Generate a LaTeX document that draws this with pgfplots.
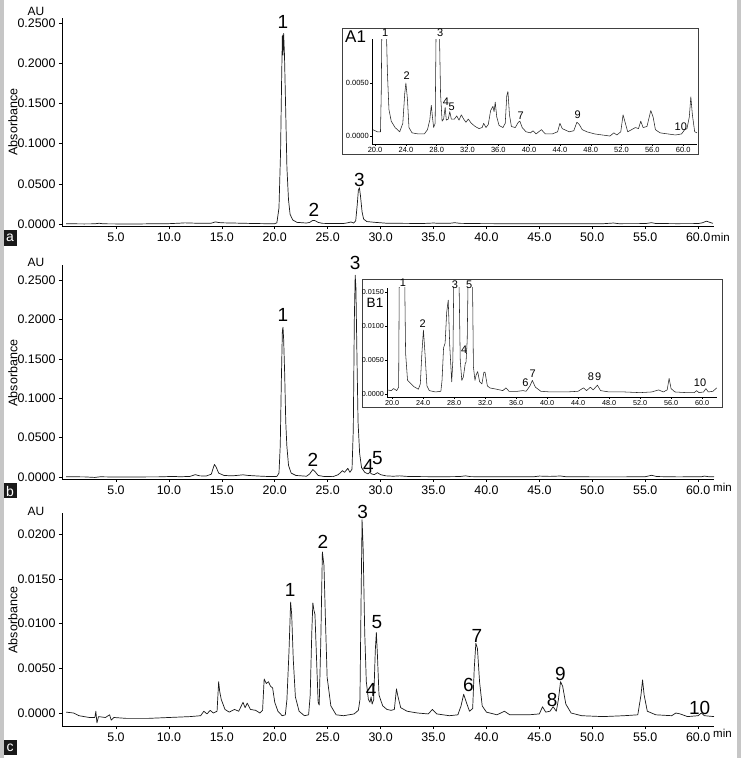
\documentclass[border=0pt]{standalone}
\usepackage{pgfplots}
\pgfplotsset{compat=1.18}
\usepackage{fontspec}
\setmainfont{Liberation Sans}
\newcommand{\fs}[1]{\fontsize{#1}{#1}\selectfont}
\pgfplotsset{
 numfmt/.style={/pgf/number format/fixed,/pgf/number format/fixed zerofill,/pgf/number format/precision=4,/pgf/number format/assume math mode=true},
 trace/.style={black!90,line width=0.7pt,line join=round,mark=none},
 itrace/.style={black!85,line width=0.55pt,line join=round,mark=none},
 mainax/.style={
   scale only axis, anchor=south west, width=652pt,
   axis lines*=left, xmin=-0.1, xmax=61.5,
   xtick={5,10,15,20,25,30,35,40,45,50,55,60},
   xticklabels={5.0,10.0,15.0,20.0,25.0,30.0,35.0,40.0,45.0,50.0,55.0,60.0},
   scaled y ticks=false,
   yticklabel style={numfmt},
   tick align=outside, major tick length=3pt,
   tick style={black,line width=0.5pt},
   axis line style={black,line width=0.6pt},
   tick label style={font=\fs{12.4}},
   clip mode=individual, no markers,
 },
 insetax/.style={
   scale only axis, anchor=south west,
   axis lines*=left,
   xtick={20,24,28,32,36,40,44,48,52,56,60},
   xticklabels={20.0,24.0,28.0,32.0,36.0,40.0,44.0,48.0,52.0,56.0,60.0},
   scaled y ticks=false,
   yticklabel style={numfmt},
   tick align=outside, major tick length=2pt,
   tick style={black,line width=0.4pt},
   axis line style={black,line width=0.5pt},
   tick label style={font=\fs{7.5},inner sep=1pt},
   clip mode=individual, no markers,
 },
}
\begin{document}
\begin{tikzpicture}
\path[use as bounding box] (0pt,0pt) rectangle (741pt,758pt);
\fill[gray!45] (0pt,0pt) rectangle (4pt,758pt);
\fill[gray!45] (737pt,0pt) rectangle (741pt,758pt);

% ---------------- panel a ----------------
\begin{axis}[mainax, at={(62pt,532pt)}, height=208pt, ymin=-0.0025, ymax=0.2562,
  ytick={0,0.05,0.1,0.15,0.2,0.25}]
\addplot[trace] coordinates {(0.3,0.0003) (1,0.0002) (2,0.0001) (3,0.0002) (3.4,0.0009) (3.8,0.0002) (5,0.0001) (7,0) (8,0.0002) (10,0.0004) (11,0.0010) (11.5,0.0014) (12,0.0012) (13,0.0008) (14,0.0010) (14.4,0.0026) (14.7,0.0018) (15.2,0.0014) (16,0.0012) (17,0.0009) (18,0.0006) (19,0.0004) (20,0.0004) (20.2,0.0015) (20.4,0.02) (20.55,0.09) (20.65,0.18) (20.72,0.235) (20.78,0.21) (20.84,0.237) (20.92,0.21) (21.02,0.15) (21.15,0.07) (21.3,0.03) (21.45,0.012) (21.7,0.005) (22.1,0.002) (23,0.0012) (23.3,0.002) (23.6,0.0045) (23.8,0.0042) (24.1,0.002) (24.5,0.0008) (25.5,0.0005) (26.5,0.0006) (26.9,0.0015) (27.2,0.0025) (27.45,0.0012) (27.65,0.004) (27.8,0.025) (27.9,0.042) (28.0,0.045) (28.1,0.035) (28.25,0.015) (28.4,0.006) (28.7,0.003) (29.5,0.002) (30.5,0.001) (32,0.0008) (34,0.0006) (35,0.0012) (35.5,0.0008) (36.5,0.0008) (37,0.0016) (37.5,0.0008) (39,0.0005) (41,0.0004) (45,0.0004) (48,0.0003) (51,0.0003) (52,0.0012) (52.5,0.0004) (55,0.0005) (55.6,0.0016) (56,0.0006) (58,0.0004) (60,0.0005) (60.4,0.0015) (60.8,0.0035) (61.1,0.002) (61.4,0.0008)};
\node[font=\fs{19}] at (20.76,0.251) {1};
\node[font=\fs{19}] at (23.7,0.0174) {2};
\node[font=\fs{19}] at (28.0,0.0547) {3};
\end{axis}

% inset A1
\filldraw[fill=white,draw=black!75,line width=0.7pt] (342pt,604pt) rectangle (698pt,730pt);
\begin{axis}[insetax, at={(372pt,614pt)}, width=325pt, height=105pt,
  xmin=19.6, xmax=61.8, ymin=-0.00075, ymax=0.00915, ytick={0,0.005}]
\addplot[itrace] coordinates {(19.7,0.0006) (20.3,0.0004) (20.7,0.0004) (20.8,0.004) (20.9,0.012) (21.4,0.012) (21.6,0.006) (21.8,0.0025) (22.1,0.0014) (22.6,0.0008) (23.2,0.0004) (23.6,0.0012) (23.85,0.004) (24.0,0.005) (24.2,0.0035) (24.4,0.0008) (24.8,0.0003) (25.6,0.0002) (26.4,0.0002) (26.8,0.0006) (27.1,0.0015) (27.3,0.0029) (27.45,0.0018) (27.6,0.0008) (27.8,0.0012) (27.95,0.012) (28.3,0.012) (28.5,0.004) (28.7,0.0014) (28.9,0.0016) (29.1,0.0027) (29.25,0.0015) (29.5,0.0016) (29.7,0.0023) (29.9,0.0016) (30.3,0.0016) (30.6,0.0019) (30.9,0.0015) (31.2,0.0020) (31.5,0.0016) (31.8,0.0013) (32.1,0.0016) (32.5,0.0012) (33.0,0.0009) (33.5,0.0007) (33.9,0.0008) (34.1,0.0012) (34.4,0.0008) (34.7,0.0011) (35.0,0.0024) (35.3,0.0028) (35.45,0.0023) (35.6,0.0032) (35.8,0.0018) (36.1,0.0010) (36.6,0.0008) (36.9,0.0012) (37.1,0.0038) (37.25,0.0042) (37.45,0.002) (37.7,0.0009) (38.2,0.0008) (38.6,0.0013) (38.8,0.0014) (39.1,0.0008) (39.6,0.0004) (40.2,0.0003) (40.5,0.0005) (40.9,0.0002) (41.6,0.0006) (42.1,0.0002) (43,0.0002) (43.7,0.0004) (44.0,0.0012) (44.3,0.0007) (45.2,0.0004) (45.8,0.0005) (46.2,0.0013) (46.5,0.0011) (46.9,0.0006) (47.5,0.0004) (48.5,0.0002) (49.5,0.0001) (50.5,0.0000) (51.0,0.0003) (51.4,0.0001) (51.9,0.0004) (52.2,0.002) (52.5,0.0012) (52.8,0.0004) (53.3,0.0006) (53.8,0.0008) (54.2,0.0007) (54.5,0.0014) (54.8,0.0008) (55.3,0.0009) (55.8,0.0024) (56.1,0.0018) (56.4,0.0006) (57,0.0003) (58,0.0002) (59,0.0001) (59.8,0.0002) (60.2,0.0006) (60.5,0.0007) (60.8,0.0018) (61.0,0.0037) (61.2,0.002) (61.5,0.0004) (61.8,0.0003)};
\node[font=\fs{11}] at (21.3,0.0097) {1};
\node[font=\fs{11}] at (24.1,0.0057) {2};
\node[font=\fs{11}] at (28.45,0.0097) {3};
\node[font=\fs{11}] at (29.2,0.0032) {4};
\node[font=\fs{11}] at (29.95,0.0028) {5};
\node[font=\fs{11}] at (38.9,0.0019) {7};
\node[font=\fs{11}] at (46.3,0.0020) {9};
\node[font=\fs{11}] at (59.7,0.0009) {10};
\end{axis}
\node[font=\fs{17},anchor=west,inner sep=0pt] at (345pt,721pt) {A1};

% ---------------- panel b ----------------
\begin{axis}[mainax, at={(62pt,279pt)}, height=214pt, ymin=-0.0025, ymax=0.269,
  ytick={0,0.05,0.1,0.15,0.2,0.25}]
\addplot[trace] coordinates {(0.3,0.0003) (2,0.0002) (3,-0.0005) (3.5,0.0003) (4.5,0.0001) (6,0.0001) (9,0.0002) (10.5,0.0008) (11,0.0003) (12,0.0008) (12.5,0.0030) (12.9,0.0015) (13.5,0.0012) (14.0,0.0035) (14.3,0.016) (14.45,0.013) (14.7,0.005) (15.2,0.002) (16,0.0015) (17,0.0028) (17.5,0.002) (18.5,0.0012) (19.5,0.0006) (20.2,0.0008) (20.4,0.005) (20.52,0.04) (20.62,0.12) (20.72,0.185) (20.78,0.19) (20.84,0.175) (20.94,0.13) (21.04,0.07) (21.14,0.04) (21.3,0.015) (21.55,0.005) (22,0.002) (23,0.001) (23.3,0.004) (23.6,0.0095) (23.8,0.007) (24.1,0.002) (24.6,0.0008) (25.5,0.0005) (26.0,0.003) (26.4,0.008) (26.6,0.006) (26.9,0.011) (27.1,0.006) (27.3,0.01) (27.42,0.06) (27.52,0.2) (27.6,0.256) (27.67,0.24) (27.77,0.15) (27.87,0.07) (28.02,0.03) (28.2,0.012) (28.5,0.006) (28.8,0.004) (29.0,0.006) (29.15,0.004) (29.4,0.003) (29.7,0.0055) (30.0,0.003) (30.5,0.0015) (31.2,0.001) (31.8,0.0015) (32.5,0.0008) (34,0.0005) (36,0.0004) (37.5,0.0006) (38,0.0015) (38.5,0.0005) (41,0.0003) (44.5,0.0004) (45,0.0012) (46,0.0008) (47,0.0013) (47.5,0.0004) (50,0.0002) (53,0.0002) (55,0.0004) (55.6,0.0022) (56.1,0.0006) (58,0.0002) (60.3,0.0003) (60.6,0.0012) (61,0.0004) (61.5,0.0003)};
\node[font=\fs{19}] at (20.76,0.2056) {1};
\node[font=\fs{19}] at (23.6,0.0216) {2};
\node[font=\fs{19}] at (27.6,0.271) {3};
\node[font=\fs{19}] at (28.86,0.014) {4};
\node[font=\fs{19}] at (29.7,0.0237) {5};
\end{axis}

% inset B1
\filldraw[fill=white,draw=black!75,line width=0.7pt] (362pt,351pt) rectangle (722pt,479pt);
\begin{axis}[insetax, at={(387pt,361pt)}, width=330pt, height=109pt,
  xmin=19.35, xmax=61.93, ymin=-0.00044, ymax=0.01559, ytick={0,0.005,0.01,0.015},
  tick label style={font=\fs{7.2},inner sep=1pt}]
\addplot[itrace] coordinates {(19.4,0.0006) (19.9,0.0005) (20.2,0.0008) (20.6,0.0005) (20.85,0.001) (20.95,0.02) (21.6,0.02) (21.75,0.006) (22.0,0.002) (22.8,0.0011) (23.4,0.0007) (23.65,0.0015) (23.85,0.006) (24.05,0.0094) (24.25,0.006) (24.5,0.0012) (24.8,0.0005) (25.6,0.0003) (26.3,0.0004) (26.45,0.002) (26.65,0.0068) (26.85,0.0075) (27.05,0.012) (27.25,0.0138) (27.45,0.007) (27.7,0.0018) (27.85,0.005) (28.0,0.02) (28.6,0.02) (28.8,0.005) (29.0,0.002) (29.2,0.0025) (29.45,0.0045) (29.55,0.0047) (29.7,0.008) (29.85,0.02) (30.35,0.02) (30.5,0.004) (30.7,0.002) (30.85,0.0028) (31.05,0.0033) (31.3,0.0018) (31.6,0.0015) (31.85,0.0032) (32.0,0.0032) (32.3,0.0012) (32.6,0.0009) (33.5,0.0007) (34.3,0.0005) (34.7,0.0009) (35.1,0.0004) (36.2,0.0004) (36.9,0.0005) (37.3,0.0004) (37.8,0.0012) (38.1,0.0020) (38.5,0.0010) (39.2,0.0004) (40.5,0.0003) (42.5,0.0003) (44.0,0.0004) (44.7,0.0009) (45.1,0.0005) (45.6,0.0010) (45.95,0.0006) (46.5,0.0013) (46.9,0.0005) (48,0.0003) (50,0.0003) (52,0.0002) (53.5,0.0003) (54.4,0.0006) (55.0,0.0003) (55.5,0.0006) (55.75,0.0023) (56.0,0.0008) (56.5,0.0003) (58,0.0002) (59.0,0.0002) (59.3,0.0005) (59.6,0.0002) (60.2,0.0003) (60.5,0.0008) (60.8,0.0003) (61.4,0.0004) (61.9,0.0009)};
\node[font=\fs{11}] at (21.4,0.0163) {1};
\node[font=\fs{11}] at (23.95,0.0104) {2};
\node[font=\fs{11}] at (28.1,0.0160) {3};
\node[font=\fs{11}] at (29.3,0.0065) {4};
\node[font=\fs{11}] at (29.95,0.0160) {5};
\node[font=\fs{11}] at (37.2,0.0016) {6};
\node[font=\fs{11}] at (38.15,0.0030) {7};
\node[font=\fs{11}] at (45.65,0.0025) {8};
\node[font=\fs{11}] at (46.6,0.0025) {9};
\node[font=\fs{11}] at (59.75,0.0017) {10};
\end{axis}
\node[font=\fs{13.5},inner sep=0pt] at (375pt,455pt) {B1};

% ---------------- panel c ----------------
\begin{axis}[mainax, at={(62pt,32pt)}, height=213pt, ymin=-0.00145, ymax=0.02235,
  ytick={0,0.005,0.01,0.015,0.02}]
\addplot[trace] coordinates {(0.3,0.0001) (1,0.0000) (1.5,-0.0003) (2.5,-0.0005) (3.0,-0.0005) (3.1,0.0002) (3.2,-0.0011) (3.35,-0.0004) (4,-0.0005) (4.4,-0.0002) (4.55,-0.0008) (4.8,-0.0005) (6,-0.0006) (8,-0.0006) (10,-0.0005) (12,-0.0004) (13,-0.0003) (13.3,0.0002) (13.6,-0.0001) (13.9,0.0003) (14.2,0.0000) (14.55,0.0002) (14.7,0.0035) (14.8,0.0024) (14.95,0.0015) (15.3,0.0004) (15.7,0.0001) (16.2,0.0004) (16.6,0.0002) (17.0,0.0012) (17.2,0.0006) (17.4,0.0011) (17.7,0.0004) (18.2,0.0003) (18.6,0.0000) (18.85,0.0003) (19.0,0.0038) (19.2,0.0033) (19.4,0.0035) (19.6,0.003) (19.8,0.0028) (20.0,0.0012) (20.3,0.0002) (20.7,-0.0003) (21.0,-0.0002) (21.15,0.0015) (21.35,0.007) (21.5,0.0124) (21.6,0.011) (21.75,0.006) (21.95,0.0018) (22.3,0.0002) (22.8,-0.0003) (23.2,-0.0002) (23.35,0.002) (23.5,0.009) (23.6,0.0123) (23.7,0.0115) (23.8,0.011) (23.95,0.006) (24.1,0.0012) (24.2,0.0009) (24.35,0.008) (24.5,0.018) (24.65,0.0165) (24.8,0.010) (24.95,0.004) (25.3,0.0008) (25.8,-0.0002) (26.5,-0.0003) (27.5,-0.0001) (27.9,0.0003) (28.05,0.0015) (28.15,0.012) (28.25,0.0216) (28.35,0.0185) (28.5,0.009) (28.65,0.0035) (28.85,0.0015) (29.0,0.0012) (29.1,0.0018) (29.2,0.001) (29.35,0.0015) (29.5,0.007) (29.6,0.009) (29.7,0.0065) (29.85,0.002) (30.2,0.0008) (30.6,0.0004) (31.0,0.0003) (31.3,0.0004) (31.5,0.0027) (31.65,0.0018) (31.9,0.0006) (32.5,0.0002) (33.5,0.0000) (34.5,-0.0001) (34.9,0.0004) (35.3,-0.0001) (36.5,-0.0003) (37.3,-0.0002) (37.6,0.0008) (37.85,0.0021) (38.1,0.0012) (38.4,0.0002) (38.7,0.0005) (38.85,0.005) (39.0,0.0078) (39.15,0.0072) (39.35,0.0035) (39.6,0.0008) (40,0.0001) (41,-0.0002) (41.7,0.0002) (42.2,-0.0002) (44,-0.0002) (45.0,-0.0001) (45.3,0.0007) (45.6,0.0001) (46.0,0.0002) (46.3,0.0007) (46.6,0.0002) (46.8,0.0015) (47.0,0.0035) (47.2,0.003) (47.5,0.001) (48,0.0000) (49,-0.0003) (51,-0.0004) (53,-0.0003) (54.3,-0.0002) (54.6,0.002) (54.75,0.0037) (54.9,0.002) (55.2,0.0002) (56,-0.0002) (57.5,-0.0003) (57.9,0.0000) (58.3,-0.0001) (59,-0.0004) (60.0,-0.0003) (60.3,0.0000) (60.6,-0.0003) (61.5,-0.0004)};
\node[font=\fs{19}] at (21.46,0.0137) {1};
\node[font=\fs{19}] at (24.55,0.0191) {2};
\node[font=\fs{19}] at (28.3,0.0225) {3};
\node[font=\fs{19}] at (29.1,0.0026) {4};
\node[font=\fs{19}] at (29.65,0.0102) {5};
\node[font=\fs{19}] at (38.3,0.0031) {6};
\node[font=\fs{19}] at (39.1,0.0086) {7};
\node[font=\fs{19}] at (46.2,0.0015) {8};
\node[font=\fs{19}] at (47.0,0.0044) {9};
\node[font=\fs{19}] at (60.15,0.0006) {10};
\end{axis}

% axis titles
\node[font=\fs{12},inner sep=0pt] at (36pt,747pt) {AU};
\node[font=\fs{12},inner sep=0pt] at (36pt,496pt) {AU};
\node[font=\fs{12},inner sep=0pt] at (36pt,247pt) {AU};
\node[font=\fs{12.5},rotate=90] at (13pt,636pt) {Absorbance};
\node[font=\fs{12.5},rotate=90] at (13pt,385pt) {Absorbance};
\node[font=\fs{12.5},rotate=90] at (13pt,138pt) {Absorbance};
\node[font=\fs{11.5},anchor=west,inner sep=0pt] at (711pt,521pt) {min};
\node[font=\fs{11.5},anchor=west,inner sep=0pt] at (713pt,271pt) {min};
\node[font=\fs{11.5},anchor=west,inner sep=0pt] at (713pt,25pt) {min};
% panel letters
\node[fill=black!90,text=white,font=\fs{14},minimum width=13pt,minimum height=16pt,inner sep=0pt] at (10pt,520pt) {a};
\node[fill=black!90,text=white,font=\fs{14},minimum width=13pt,minimum height=15pt,inner sep=0pt] at (10pt,267pt) {b};
\node[fill=black!90,text=white,font=\fs{14},minimum width=13pt,minimum height=15pt,inner sep=0pt] at (10pt,10pt) {c};
\end{tikzpicture}
\end{document}
